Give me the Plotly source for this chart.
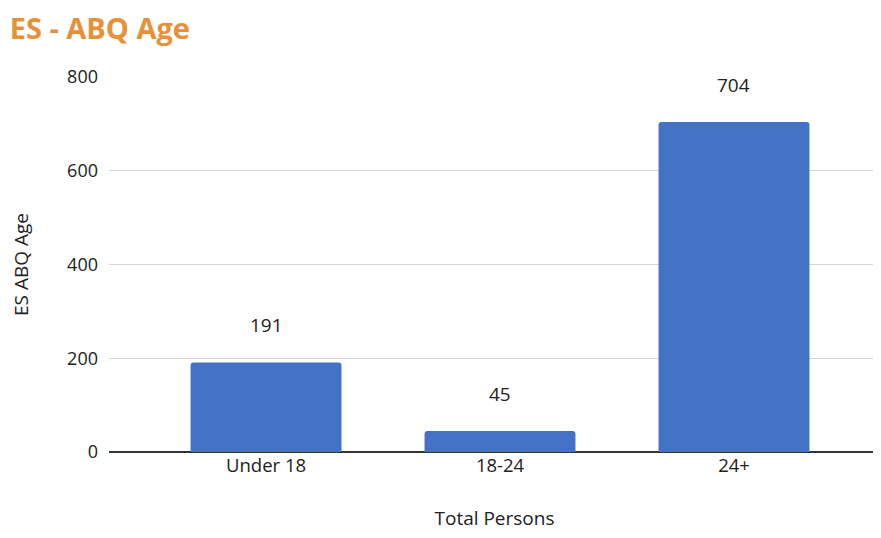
import plotly.graph_objects as go

categories = ["Under 18", "18-24", "24+"]
persons = [191, 45, 704]
y_ticks = [0, 200, 400, 600, 800]

BAR_COLOR = "#4472C4"
FONT = "Open Sans, Noto Sans, sans-serif"

fig = go.Figure()
fig.add_trace(go.Bar(
    x=categories,
    y=persons,
    marker=dict(color=BAR_COLOR, line=dict(width=0), cornerradius=3),
    width=0.645,
    hoverinfo="x+y",
))

# value labels sit well above each bar
for cat, val in zip(categories, persons):
    fig.add_annotation(
        x=cat, y=val, text=str(val), showarrow=False,
        yshift=37, font=dict(size=19, color="#222", family=FONT),
    )

# page body adds an 8px offset, so the figure is sized to compensate
fig.update_layout(
    width=873,
    height=530,
    margin=dict(l=101, r=1, t=69, b=86),
    paper_bgcolor="white",
    plot_bgcolor="white",
    showlegend=False,
    font=dict(family=FONT, size=17, color="#222"),
    title=dict(
        text="<b>ES - ABQ Age</b>",
        x=0.002, xanchor="left", y=0.961, yanchor="middle",
        font=dict(size=29, color="#E69138", family=FONT),
    ),
)

fig.update_xaxes(
    range=[-0.671, 2.624],
    showgrid=False,
    showline=False,
    ticks="",
    tickfont=dict(size=18.5),
    title=dict(text="Total Persons", font=dict(size=19), standoff=36),
)

fig.update_yaxes(
    range=[0, 800],
    tickvals=y_ticks,
    showgrid=True,
    gridcolor="#d6d6d6",
    gridwidth=1,
    zeroline=True,
    zerolinecolor="#333",
    zerolinewidth=1.5,
    ticks="",
    ticklabelstandoff=10,
    tickfont=dict(size=18),
    title=dict(text="ES ABQ Age", font=dict(size=19), standoff=34),
)

fig.write_html("out.html")
